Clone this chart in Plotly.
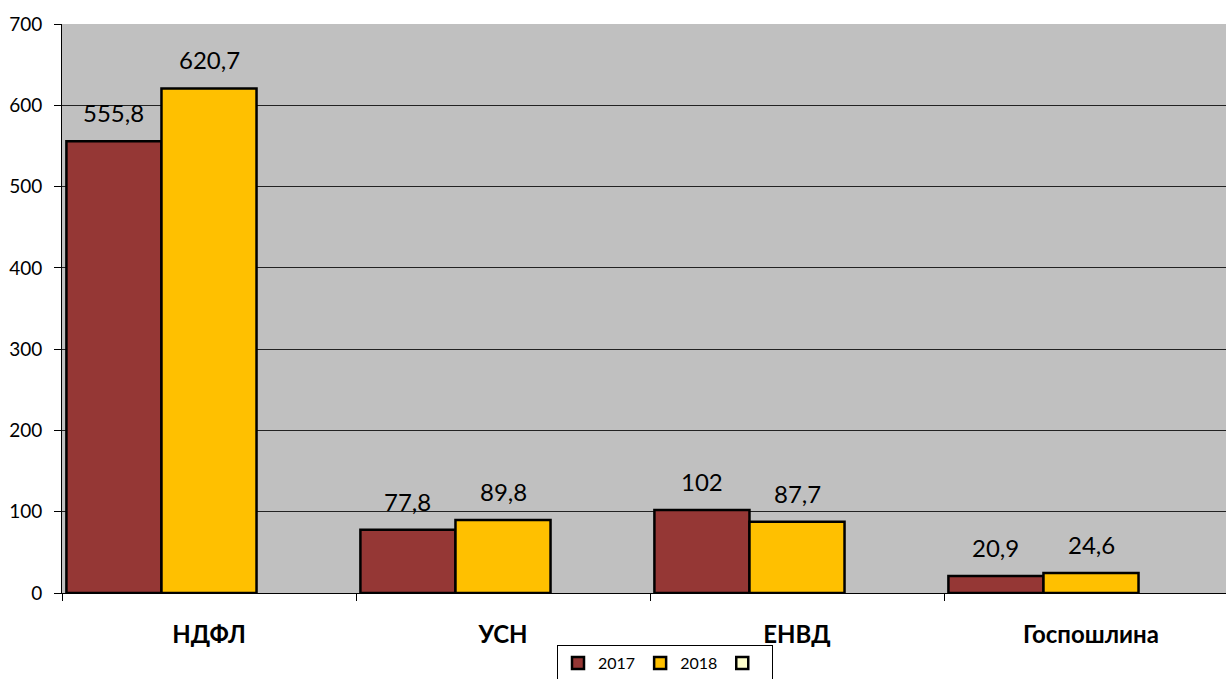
import plotly.graph_objects as go

categories = ["НДФЛ", "УСН", "ЕНВД", "Госпошлина"]
values_2017 = [555.8, 77.8, 102, 20.9]
values_2018 = [620.7, 89.8, 87.7, 24.6]
values_3 = [None, None, None, None]
labels_2017 = ["555,8", "77,8", "102", "20,9"]
labels_2018 = ["620,7", "89,8", "87,7", "24,6"]
series_names = ["2017", "2018", " "]
y_ticks = [0, 100, 200, 300, 400, 500, 600, 700]

W, H = 1226, 679
L, R, T, B = 62, 0, 24, 86
BARGAP = 0.03
NSER = 3
bw = (1 - BARGAP) / NSER

fig = go.Figure()
fig.add_trace(go.Bar(
    x=categories, y=values_2017, name=series_names[0],
    marker=dict(color="#953735", line=dict(color="black", width=2.5)),
))
fig.add_trace(go.Bar(
    x=categories, y=values_2018, name=series_names[1],
    marker=dict(color="#FFC000", line=dict(color="black", width=2.5)),
))
fig.add_trace(go.Bar(
    x=categories, y=values_3, name=series_names[2],
    marker=dict(color="#FFFFCC", line=dict(color="black", width=2.5)),
    showlegend=True,
))

annotations = []
for i, cat in enumerate(categories):
    for off, vals, labs in ((-bw, values_2017, labels_2017), (0, values_2018, labels_2018)):
        annotations.append(dict(
            x=i + off, y=vals[i], xref="x", yref="y",
            text=labs[i], showarrow=False, yanchor="bottom", yshift=12,
            font=dict(size=24, family="Lato", color="black"),
        ))

fig.update_layout(
    width=W, height=H,
    margin=dict(l=L, r=R, t=T, b=B, autoexpand=False),
    paper_bgcolor="white",
    plot_bgcolor="#C0C0C0",
    barmode="group",
    bargap=BARGAP,
    bargroupgap=0,
    font=dict(family="Lato", color="black"),
    showlegend=True,
    annotations=annotations,
    legend=dict(
        orientation="h",
        x=(665 - L) / (W - L - R), xanchor="center",
        y=(593 - 645) / (593 - 24), yanchor="top",
        bordercolor="black", borderwidth=1,
        bgcolor="white",
        font=dict(size=16, family="Lato", color="black"),
        itemwidth=30,
        tracegroupgap=0,
    ),
)

fig.update_xaxes(
    type="category",
    range=[-0.5, 3.5 - 12 / 294],
    automargin=False,
    showline=True, linecolor="black", linewidth=1,
    ticks="outside", tickson="boundaries", ticklen=7, tickcolor="black",
    tickfont=dict(size=24, family="Lato", color="black", weight="bold"),
    showgrid=False,
    ticklabelstandoff=20,
)
fig.update_yaxes(
    range=[0, 700],
    tickvals=y_ticks,
    automargin=False,
    showline=True, linecolor="black", linewidth=1,
    ticks="outside", ticklen=7, tickcolor="black",
    tickfont=dict(size=19, family="Lato", color="black"),
    showgrid=True, gridcolor="#222222", gridwidth=1,
    zeroline=False,
    ticklabelstandoff=8,
)

fig.write_html(
    "out.html",
    config={"displayModeBar": False},
    post_script="document.body.style.margin='0';document.body.style.overflow='hidden';",
)
